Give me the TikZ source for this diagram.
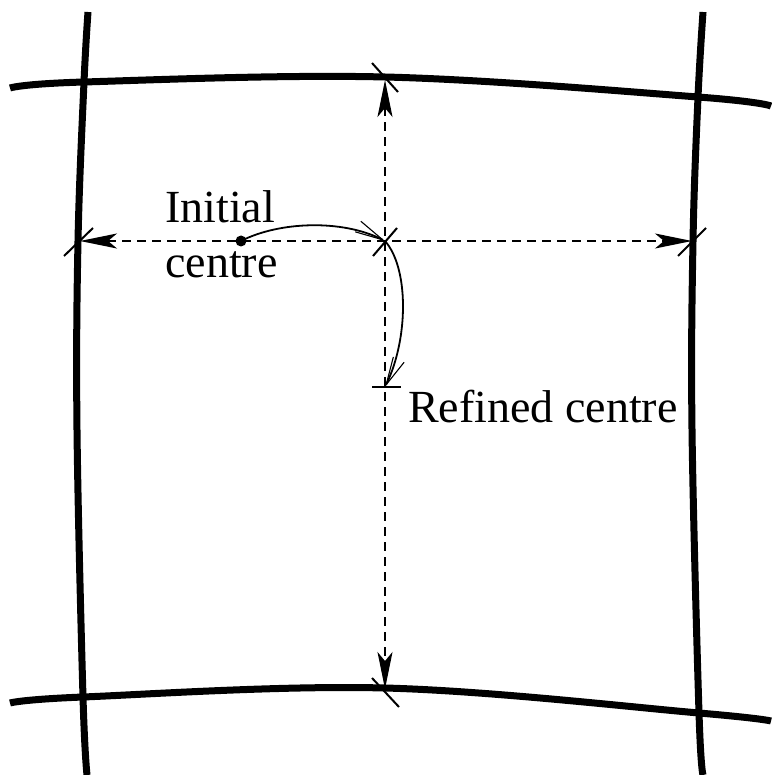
\documentclass[tikz,border=0pt]{standalone}
\usepackage{fontspec}
\setmainfont{Liberation Serif}
\usetikzlibrary{arrows.meta,bending}
\begin{document}
\begin{tikzpicture}[x=1pt,y=-1pt,
  gridline/.style={line width=7pt,line cap=butt},
  dimline/.style={dash pattern=on 9pt off 6pt,line width=1.7pt,
     {Stealth[length=37pt,width=15pt,inset=9pt]}-{Stealth[length=37pt,width=15pt,inset=9pt]}},
  tickmark/.style={line width=2pt},
  moveto/.style={line width=1.8pt,-{Straight Barb[length=28pt,width=12pt,line width=1.1pt]}},
  lbl/.style={anchor=base west,inner sep=0pt,font=\fontsize{46}{54}\selectfont}]
\useasboundingbox (0,0) rectangle (771,775);
\fill[white] (0,0) rectangle (771,775);
% grid lines
\draw[gridline] plot[smooth,tension=0.6] coordinates {(10,88) (84,82) (385,77) (698,97) (771,106)};
\draw[gridline] plot[smooth,tension=0.6] coordinates {(10,703) (83,697) (385,688) (699,713) (771,721)};
\draw[gridline] plot[smooth,tension=0.6] coordinates {(88,12) (84,82) (78,241) (77,430) (83,697) (87,775)};
\draw[gridline] plot[smooth,tension=0.6] coordinates {(703,12) (698,97) (693,241) (692,430) (699,713) (703,775)};
% key points
\coordinate (L) at (80,241);
\coordinate (R) at (692,241);
\coordinate (T) at (385,80);
\coordinate (B) at (385,689);
\coordinate (C) at (385,241);
\coordinate (F) at (385,387);
\coordinate (I) at (241,241);
% dashed dimension lines
\draw[dimline] (L) -- (R);
\draw[dimline] (T) -- (B);
% tick marks
\draw[tickmark] ([shift={(-16,15)}]L) -- ([shift={(13,-13)}]L);
\draw[tickmark] ([shift={(-14,15)}]R) -- ([shift={(14,-13)}]R);
\draw[tickmark] ([shift={(-12,15)}]C) -- ([shift={(12,-13)}]C);
\draw[tickmark] ([shift={(-13,-17)}]T) -- ([shift={(13,12)}]T);
\draw[tickmark] ([shift={(-13,-11)}]B) -- ([shift={(14,18)}]B);
\draw[tickmark] ([shift={(-13,0)}]F) -- ([shift={(16,0)}]F);
% initial centre dot
\fill (I) circle (5.5pt);
% moves
\draw[moveto] (I) .. controls (280,221) and (345,219) .. (C);
\draw[moveto] (C) .. controls (409,268) and (409,340) .. (F);
% labels
\node[lbl] (t1) at (165,223) {Initial};
\node[lbl] (t2) at (165,277) {centre};
\node[lbl] (t3) at (408,422) {Refined centre};
\end{tikzpicture}
\end{document}
